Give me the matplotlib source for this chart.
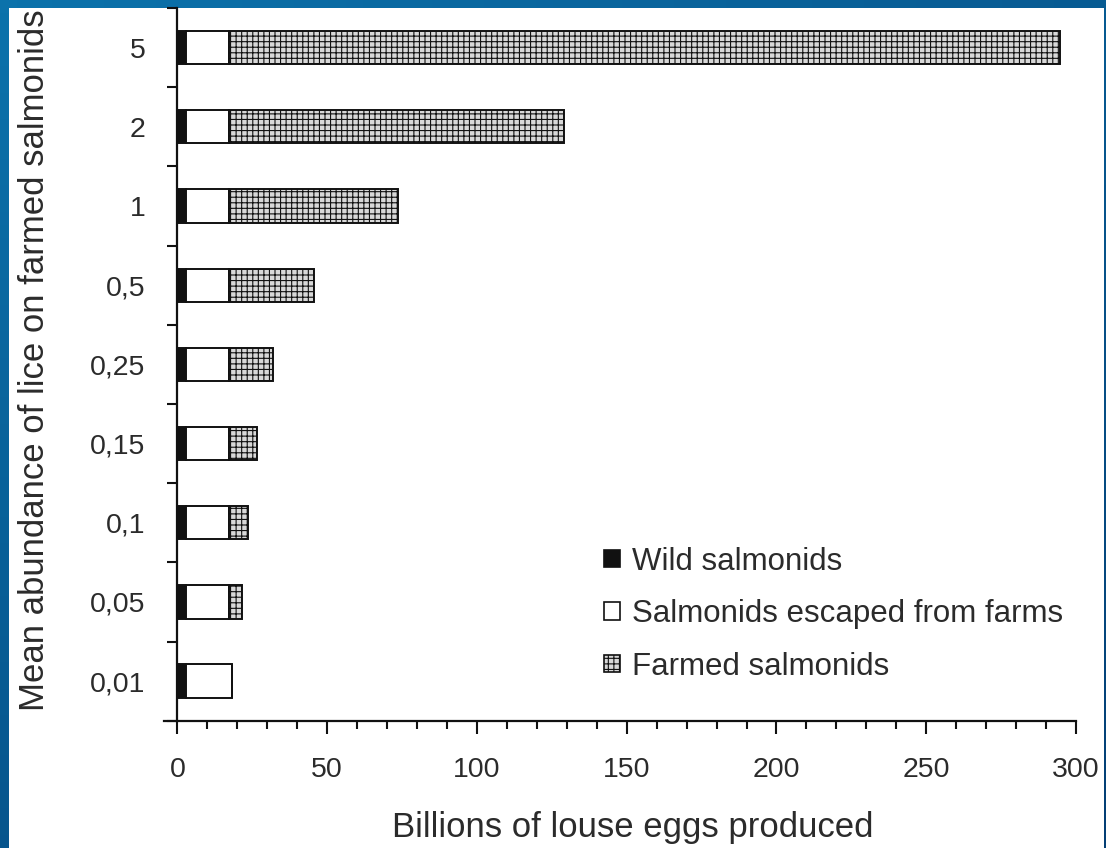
import matplotlib
matplotlib.use("Agg")
import matplotlib.pyplot as plt
import numpy as np
from matplotlib.patches import Rectangle, Patch
from matplotlib.ticker import FixedLocator, MultipleLocator

# ---- data ----
categories = ["0,01", "0,05", "0,1", "0,15", "0,25", "0,5", "1", "2", "5"]
wild = [2.8, 2.8, 2.8, 2.8, 2.8, 2.8, 2.8, 2.8, 2.8]
escaped = [15.4, 14.4, 14.4, 14.4, 14.4, 14.4, 14.4, 14.4, 14.4]
farmed = [0.0, 4.3, 6.3, 9.3, 14.7, 28.4, 56.3, 111.8, 277.5]
legend_labels = ["Wild salmonids", "Salmonids escaped from farms", "Farmed salmonids"]
xticks = [0, 50, 100, 150, 200, 250, 300]

plt.rcParams['font.family'] = ['Liberation Sans', 'DejaVu Sans']
plt.rcParams['hatch.color'] = '#4a4a4a'
plt.rcParams['hatch.linewidth'] = 0.8

W, H = 1106, 848
fig = plt.figure(figsize=(W / 100, H / 100), dpi=100)

# blue slide frame with gradient
bg = fig.add_axes([0, 0, 1, 1], zorder=-10)
gx = np.linspace(0, 1, 64)
gy = np.linspace(0, 1, 64)
GX, GY = np.meshgrid(gx, gy)
c1 = np.array([0x0b, 0x72, 0xab]) / 255.0
c2 = np.array([0x04, 0x3f, 0x75]) / 255.0
t = np.clip(0.55 * GY + 0.45 * GX, 0, 1)[..., None]
img = c1 * (1 - t) + c2 * t
bg.imshow(img, extent=[0, 1, 0, 1], aspect='auto', origin='upper')
bg.add_patch(Rectangle((9 / W, 0), (1104 - 9) / W, (H - 8) / H, facecolor='white',
                       edgecolor='none', transform=bg.transAxes))
bg.set_xlim(0, 1)
bg.set_ylim(0, 1)
bg.axis('off')

ax = fig.add_axes([164 / W, 1 - 720.7 / H, (1076 - 164) / W, (720.7 - 8) / H])
ax.set_facecolor('none')

y = np.arange(len(categories))
ink = '#111111'
txt = '#2b2b2b'
bh = 0.42
lw = 1.4
wild_arr = np.array(wild)
esc_arr = np.array(escaped)
farm_arr = np.array(farmed)

ax.barh(y, wild_arr, height=bh, color=ink, edgecolor=ink, linewidth=lw, zorder=3)
ax.barh(y, esc_arr, left=wild_arr, height=bh, color='white', edgecolor=ink, linewidth=lw, zorder=3)
ax.barh(y, farm_arr, left=wild_arr + esc_arr, height=bh, color='#d8d8d8', edgecolor=ink,
        linewidth=lw, hatch='+++', zorder=3)

ax.set_xlim(-4.5, 300)
ax.set_ylim(-0.5, len(categories) - 0.5)

for s in ['top', 'right']:
    ax.spines[s].set_visible(False)
ax.spines['left'].set_position(('data', 0))
for s in ['left', 'bottom']:
    ax.spines[s].set_linewidth(1.6)
    ax.spines[s].set_color(ink)

ax.xaxis.set_major_locator(FixedLocator(xticks))
ax.xaxis.set_minor_locator(MultipleLocator(10))
ax.set_xticklabels([str(v) for v in xticks])
ax.tick_params(axis='x', which='major', direction='out', length=9, width=1.5, color=ink,
               labelsize=20.5, labelcolor=txt, pad=17)
ax.tick_params(axis='x', which='minor', direction='out', length=5.5, width=1.5, color=ink)

ax.set_yticks(y)
ax.set_yticklabels(categories)
ax.yaxis.set_minor_locator(FixedLocator(np.arange(-0.5, len(categories), 1.0)))
ax.tick_params(axis='y', which='major', length=0, labelsize=20.5, labelcolor=txt, pad=23)
ax.tick_params(axis='y', which='minor', direction='out', length=7, width=1.5, color=ink)

ax.set_xlabel("Billions of louse eggs produced", fontsize=25, color=txt, labelpad=20)
ax.xaxis.label.set_x(0.514)
ax.set_ylabel("Mean abundance of lice on farmed salmonids", fontsize=25, color=txt, labelpad=28)
ax.yaxis.label.set_y(0.506)

handles = [Patch(facecolor=ink, edgecolor=ink, linewidth=1.2),
           Patch(facecolor='white', edgecolor=ink, linewidth=1.2),
           Patch(facecolor='#d8d8d8', edgecolor=ink, linewidth=1.2, hatch='+++')]
leg = ax.legend(handles, legend_labels, loc='lower right', bbox_to_anchor=(0.986, 0.055),
                frameon=False, fontsize=22.5, handlelength=0.5, handleheight=0.5,
                handletextpad=0.4, labelspacing=0.72, labelcolor=txt,
                borderpad=0, borderaxespad=0)

fig.savefig("out.png", dpi=100)
